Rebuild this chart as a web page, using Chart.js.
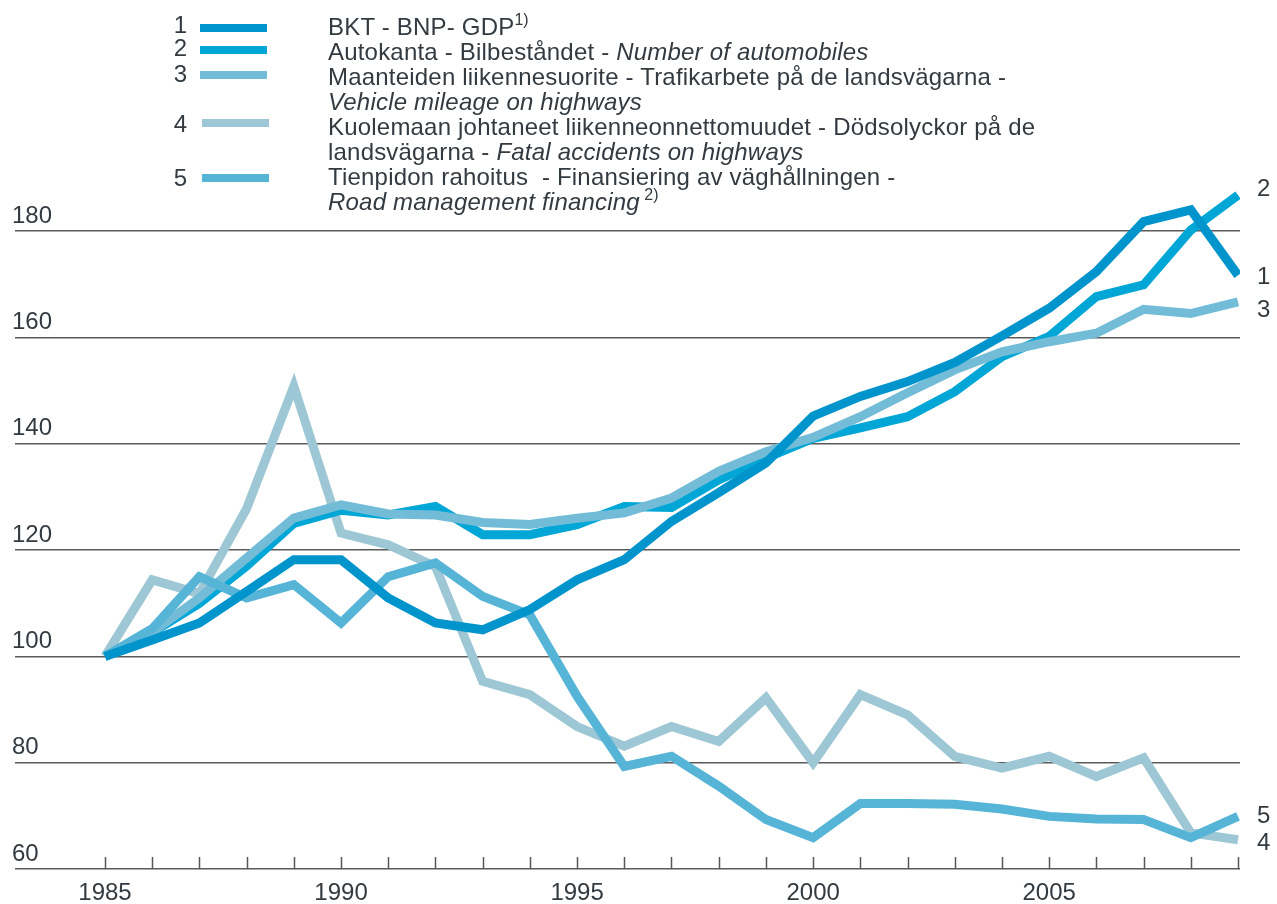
<!DOCTYPE html>
<html>
<head>
<meta charset="utf-8">
<script src="https://cdn.jsdelivr.net/npm/chart.js@4"></script>
<style>
  body { margin: 0; background: #fff; font-family: "Liberation Sans", Arial, sans-serif; color: #333a40; }
  #wrap { position: relative; width: 1277px; height: 904px; }
  canvas { position: absolute; left: 0; top: 0; }
  .num { position: absolute; width: 40px; text-align: right; font-size: 24px; line-height: 25px; }
  .swatch { position: absolute; width: 67px; height: 8px; }
  #legtext { position: absolute; left: 328px; top: 14px; font-size: 24px; line-height: 25px; letter-spacing: 0.2px; white-space: nowrap; }
  sup { font-size: 16px; line-height: 0; vertical-align: 10px; letter-spacing: 0; }
</style>
</head>
<body>
<div id="wrap">
  <canvas id="chart" width="1277" height="904"></canvas>
  <div class="num" style="left:147px;top:12px">1</div>
  <div class="num" style="left:147px;top:35px">2</div>
  <div class="num" style="left:147px;top:61px">3</div>
  <div class="num" style="left:147px;top:111px">4</div>
  <div class="num" style="left:147px;top:165px">5</div>
  <div class="swatch" style="left:200px;top:24px;background:#0094cc"></div>
  <div class="swatch" style="left:200px;top:46px;background:#00a6d6"></div>
  <div class="swatch" style="left:200px;top:71px;background:#72bcd8"></div>
  <div class="swatch" style="left:202px;top:119px;background:#9dc7d5"></div>
  <div class="swatch" style="left:202px;top:174px;background:#56b4d7"></div>
  <div id="legtext">
    BKT - BNP- GDP<sup>1)</sup><br>
    Autokanta - Bilbeståndet - <i>Number of automobiles</i><br>
    Maanteiden liikennesuorite - Trafikarbete på de landsvägarna -<br>
    <i>Vehicle mileage on highways</i><br>
    Kuolemaan johtaneet liikenneonnettomuudet - Dödsolyckor på de<br>
    landsvägarna - <i>Fatal accidents on highways</i><br>
    Tienpidon rahoitus &nbsp;- Finansiering av väghållningen -<br>
    <i>Road management financing</i><sup> 2)</sup>
  </div>
</div>
<script>
// index 1985 = 100
const years = [1985, 1986, 1987, 1988, 1989, 1990, 1991, 1992, 1993, 1994, 1995, 1996, 1997,
  1998, 1999, 2000, 2001, 2002, 2003, 2004, 2005, 2006, 2007, 2008, 2009];

const gdp = [100, 103.1, 106.3, 112.2, 118.2, 118.2, 111, 106.3, 105, 108.8, 114.4, 118.2, 125.4,
  130.8, 136.4, 145.2, 148.9, 151.7, 155.3, 160.3, 165.5, 172.4, 181.8, 184, 171.7];
const cars = [100, 104.5, 110, 117, 125, 127.5, 126.6, 128.2, 122.9, 122.9, 124.8, 128.2, 128,
  133.2, 137.3, 141, 143, 145.1, 149.8, 156.4, 160.2, 167.7, 169.9, 180.2, 186.8];
const mileage = [100, 104.5, 111, 118.5, 126, 128.5, 126.8, 126.6, 125.2, 124.8, 126, 127, 129.8,
  134.8, 138.5, 141.2, 145.1, 149.6, 153.9, 157.3, 159.2, 160.8, 165.3, 164.5, 166.7];
const fatal = [100, 114.4, 111.8, 127.8, 150.8, 123.2, 121, 116.9, 95.3, 92.8, 86.8, 83.1, 86.8,
  84, 92.2, 80, 92.8, 89, 81.2, 79, 81.2, 77.4, 80.9, 66.8, 65.5];
const financing = [100, 105.2, 115, 111, 113.5, 106.3, 115, 117.6, 111.3, 107.8, 92.5, 79.3, 81.2,
  75.6, 69.3, 65.9, 72.3, 72.3, 72.2, 71.3, 69.9, 69.4, 69.3, 65.9, 69.9];

const yTicks = [60, 80, 100, 120, 140, 160, 180];
const endLabels = ["1", "2", "3", "4", "5"];

const colors = ["#0094cc", "#00a6d6", "#72bcd8", "#9dc7d5", "#56b4d7"];
const series = [gdp, cars, mileage, fatal, financing];
const drawOrder = [0, 3, 2, 4, 1];   // lower = on top
const labelNudge = [2, -6, 9, 4, 0];

function pts(vals) {
  return vals.map((v, i) => ({ x: years[i], y: v }));
}

const FONT = "'Liberation Sans', Arial, sans-serif";

// small year ticks standing on the axis + end labels
const extras = {
  id: "extras",
  afterDatasetsDraw(chart) {
    const ctx = chart.ctx;
    const xs = chart.scales.x;
    const bottom = chart.chartArea.bottom;
    ctx.save();
    ctx.strokeStyle = "#555";
    ctx.lineWidth = 1.5;
    years.forEach(y => {
      const px = Math.round(xs.getPixelForValue(y)) + 0.5;
      ctx.beginPath();
      ctx.moveTo(px, bottom - 12);
      ctx.lineTo(px, bottom);
      ctx.stroke();
    });
    ctx.fillStyle = "#333a40";
    ctx.font = "24px " + FONT;
    ctx.textBaseline = "middle";
    chart.data.datasets.forEach((ds, i) => {
      const meta = chart.getDatasetMeta(i);
      const last = meta.data[meta.data.length - 1];
      ctx.fillText(endLabels[i], 1257, last.y + labelNudge[i]);
    });
    ctx.restore();
  }
};

new Chart(document.getElementById("chart"), {
  type: "line",
  data: {
    datasets: series.map((s, i) => ({
      label: endLabels[i],
      data: pts(s),
      borderColor: colors[i],
      borderWidth: 9,
      pointRadius: 0,
      tension: 0,
      fill: false,
      order: drawOrder[i]
    }))
  },
  options: {
    responsive: false,
    animation: false,
    layout: { padding: { left: 15, right: 37, top: 178, bottom: 0 } },
    plugins: { legend: { display: false }, tooltip: { enabled: false } },
    scales: {
      x: {
        type: "linear",
        min: 1983.094,
        max: 2009.042,
        grid: { display: false },
        border: { display: false },
        ticks: {
          stepSize: 5,
          includeBounds: false,
          padding: 2,
          color: "#333a40",
          font: { family: FONT, size: 24 },
          callback: v => String(v)
        },
        afterFit: s => { s.height = 35; }
      },
      y: {
        min: 60,
        max: 190,
        grid: { color: "#5a5a5a", lineWidth: 1.5, drawTicks: false },
        border: { display: false },
        afterBuildTicks: s => { s.ticks = yTicks.map(v => ({ value: v })); },
        ticks: {
          mirror: true,
          padding: -3,
          labelOffset: -15,
          color: "#333a40",
          font: { family: FONT, size: 24 }
        },
        afterFit: s => { s.width = 0; }
      }
    }
  },
  plugins: [extras]
});
</script>
</body>
</html>
